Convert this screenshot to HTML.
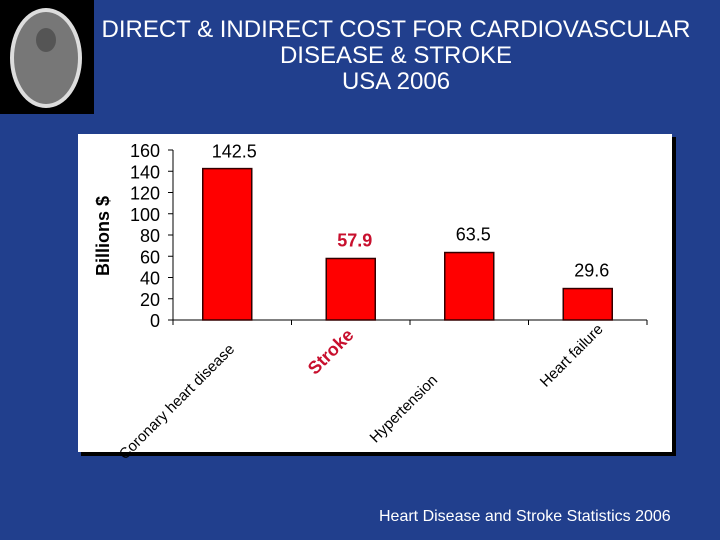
<!DOCTYPE html>
<html><head><meta charset="utf-8"><style>
body{margin:0;width:720px;height:540px;background:#213f8d;overflow:hidden;font-family:"Liberation Sans",Arial,sans-serif;position:relative}
#title{position:absolute;left:76px;top:17px;width:640px;text-align:center;color:#fff;font-size:24px;line-height:26px}
#src{position:absolute;left:379px;top:508px;color:#fff;font-size:16px}
</style></head><body>
<svg style="position:absolute;left:0;top:0" width="94" height="114">
<rect width="94" height="114" fill="#000"/>
<ellipse cx="46" cy="58" rx="36" ry="50" fill="#ddd"/>
<ellipse cx="46" cy="58" rx="32" ry="46" fill="#777"/>
<ellipse cx="46" cy="40" rx="10" ry="12" fill="#555"/>
</svg>
<div id="title">DIRECT &amp; INDIRECT COST FOR CARDIOVASCULAR DISEASE &amp; STROKE<br>USA 2006</div>
<svg id="chart" style="position:absolute;left:0;top:0" width="720" height="540"></svg>
<div id="src">Heart Disease and Stroke Statistics 2006</div>
<script>
const categories=["Coronary heart disease","Stroke","Hypertension","Heart failure"];
const values=[142.5,57.9,63.5,29.6];
const valueLabels=["142.5","57.9","63.5","29.6"];
const yTicks=[0,20,40,60,80,100,120,140,160];
const NS="http://www.w3.org/2000/svg";
const svg=document.getElementById('chart');
function mk(t,a,txt){const e=document.createElementNS(NS,t);for(const k in a)e.setAttribute(k,a[k]);if(txt!==undefined)e.textContent=txt;svg.appendChild(e);return e;}
const x0=173,x1=647,y0=320,yTop=150,yMax=160;
const ys=v=>y0-(v/yMax)*(y0-yTop);
const band=(x1-x0)/categories.length;
const xc=i=>x0+band*(i+0.5);
let p=mk('rect',{x:81,y:137,width:595,height:319,fill:'#000'});

p=mk('rect',{x:78,y:134,width:594,height:318,fill:'#fff'});

let ax=mk('line',{x1:x0,y1:yTop,x2:x0,y2:y0,stroke:'#000'});

ax=mk('line',{x1:x0,y1:y0,x2:x1,y2:y0,stroke:'#000'});

yTicks.forEach(t=>{
 const y=ys(t);
 const l=mk('line',{x1:x0-5,y1:y,x2:x0,y2:y,stroke:'#000'});
 
 const tx=mk('text',{x:x0-13,y:y+7,'text-anchor':'end','font-size':18,fill:'#000'},String(t));
 
});
for(let i=0;i<=categories.length;i++){
 const x=x0+band*i;
 const l=mk('line',{x1:x,y1:y0,x2:x,y2:y0+5,stroke:'#000'});
 
}
const yt=mk('text',{x:0,y:0,transform:'translate(109,236) rotate(-90)','text-anchor':'middle','font-size':18,'font-weight':'bold',fill:'#000'},'Billions $');

const labelOff=[[3,30],[4,16],[-31,61],[16,10]];
values.forEach((v,i)=>{
 const c=xc(i),bw=49;
 const r=mk('rect',{x:c-bw/2+(i==0?-5:0),y:ys(v),width:bw,height:y0-ys(v),fill:'#ff0000',stroke:'#330000','stroke-width':1.5});
 
 const red=categories[i]=='Stroke';
 const vl=mk('text',{x:c+(i==0?2:4),y:ys(v)-(i==0?11:12),'text-anchor':'middle','font-size':18,fill:red?'#c8102e':'#000','font-weight':red?'bold':'normal'},valueLabels[i]);
 
 const lx=c+labelOff[i][0],ly=y0+labelOff[i][1];
 const cl=mk('text',{x:0,y:0,transform:`translate(${lx},${ly}) rotate(-45)`,'text-anchor':'end','font-size':red?18:15,fill:red?'#c8102e':'#000','font-weight':red?'bold':'normal'},categories[i]);
 
});
</script>
</body></html>
